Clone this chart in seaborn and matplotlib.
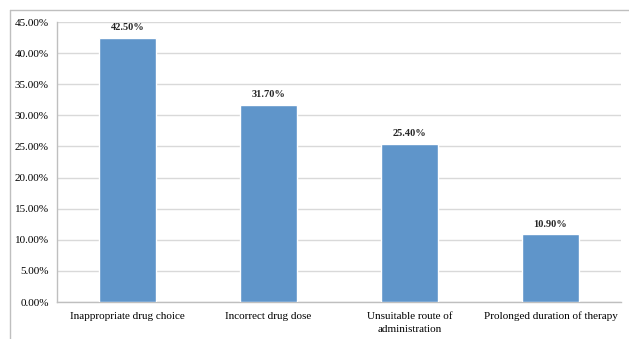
import matplotlib
matplotlib.use("Agg")
import matplotlib.pyplot as plt
import seaborn as sns
import pandas as pd
from matplotlib.ticker import FuncFormatter, MultipleLocator, FixedLocator
from matplotlib.lines import Line2D

categories = ["Inappropriate drug choice", "Incorrect drug dose",
              "Unsuitable route of\nadministration", "Prolonged duration of therapy"]
values = [42.5, 31.7, 25.4, 10.9]
value_labels = ["42.50%", "31.70%", "25.40%", "10.90%"]

sns.set_theme(style="white")
plt.rcParams['font.family'] = ['Liberation Serif', 'DejaVu Serif']

df = pd.DataFrame({"category": categories, "value": values})

fig = plt.figure(figsize=(6.29, 3.39), dpi=100)
ax = fig.add_axes([57/629, 1-302/339, (621-57)/629, (302-22)/339])

sns.barplot(data=df, x="category", y="value", color="#5F95CA", width=0.4,
            saturation=1, ax=ax, zorder=3)

ax.set_xlim(-0.5, 3.5)
ax.set_ylim(0, 45)
ax.yaxis.set_major_locator(MultipleLocator(5))
ax.yaxis.set_major_formatter(FuncFormatter(lambda v, p: f"{v:.2f}%"))
ax.grid(axis="y", color="#d9d9d9", linewidth=1, zorder=0)
ax.set_axisbelow(True)
ax.set_xlabel("")
ax.set_ylabel("")

for s in ["top", "right"]:
    ax.spines[s].set_visible(False)
for s in ["left", "bottom"]:
    ax.spines[s].set_color("#bfbfbf")
    ax.spines[s].set_linewidth(1)

ax.tick_params(axis="y", length=0, pad=6, labelsize=8, colors="#000000")
ax.tick_params(axis="x", which="major", length=0, pad=7, labelsize=8, colors="#000000")
ax.xaxis.set_minor_locator(FixedLocator([-0.5, 0.5, 1.5, 2.5, 3.5]))
ax.tick_params(axis="x", which="minor", length=4, width=1, color="#bfbfbf", direction="out")
for t in ax.get_xticklabels():
    t.set_linespacing(1.55)

for i, (v, lab) in enumerate(zip(values, value_labels)):
    ax.annotate(lab, (i, v), xytext=(0, 4), textcoords="offset points",
                ha="center", va="bottom", fontsize=7.5, fontweight="bold")

fig.add_artist(Line2D([10/629, 1], [1-10/339, 1-10/339], color="#bfbfbf", lw=1,
                      transform=fig.transFigure))
fig.add_artist(Line2D([10/629, 10/629], [0, 1-10/339], color="#bfbfbf", lw=1,
                      transform=fig.transFigure))

fig.savefig("out.png", dpi=100, facecolor="white")
